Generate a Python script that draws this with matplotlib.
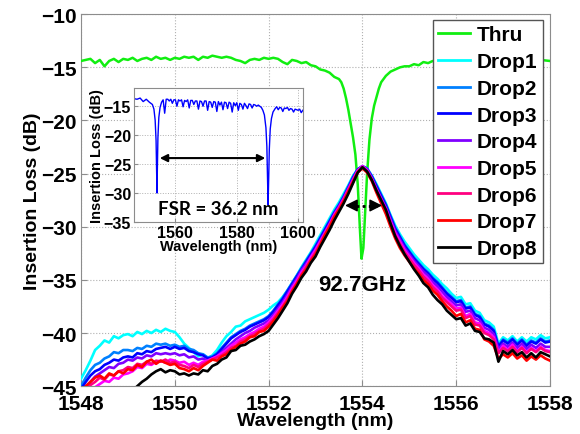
import numpy as np
import matplotlib
matplotlib.use("Agg")
import matplotlib.pyplot as plt

plt.rcParams['font.family'] = ['Liberation Sans', 'DejaVu Sans']
plt.rcParams['font.weight'] = 'bold'

# ---------------- data ----------------
wl = np.round(np.arange(1548.0, 1558.0001, 0.1), 2)

drop1 = [-44.3, -43.5, -42.6, -41.6, -41.2, -40.7, -40.9, -40.3, -40.5, -40.2,
         -40.1, -40.3, -39.9, -40.1, -39.8, -40.0, -39.7, -39.9, -39.6, -39.8,
         -39.9, -40.4, -41.0, -41.4, -41.8, -42.2, -42.0, -42.4, -42.1, -41.6,
         -40.9, -40.3, -39.9, -39.4, -39.3, -38.9, -38.7, -38.5, -38.3, -38.1,
         -37.8, -37.4, -37.1, -36.6, -36.0, -35.3, -34.6, -33.8, -33.1, -32.4,
         -31.6, -30.8, -30.0, -29.2, -28.4, -27.7, -26.9, -26.1, -25.2, -24.6,
         -24.4, -24.6, -25.2, -26.0, -26.9, -27.8, -28.9, -29.9, -30.7, -31.4,
         -32.0, -32.6, -33.1, -33.6, -34.0, -34.5, -34.9, -35.4, -35.8, -36.3,
         -36.7, -36.6, -37.3, -37.2, -37.9, -38.1, -38.8, -39.0, -39.4, -41.0,
         -40.4, -40.7, -40.3, -40.8, -40.4, -40.8, -40.4, -40.6, -40.2, -40.5, -40.4]
drop2 = [-45.0, -44.2, -43.5, -43.0, -42.8, -42.4, -42.2, -41.8, -41.9, -41.6,
         -41.6, -41.7, -41.4, -41.5, -41.2, -41.3, -41.0, -41.1, -41.0, -41.2,
         -41.1, -41.3, -41.2, -41.5, -41.6, -41.9, -42.0, -42.3, -42.2, -41.9,
         -41.4, -40.9, -40.4, -40.1, -39.8, -39.6, -39.3, -39.1, -38.9, -38.7,
         -38.4, -37.9, -37.3, -36.7, -36.0, -35.3, -34.6, -33.9, -33.2, -32.5,
         -31.8, -31.0, -30.2, -29.4, -28.6, -27.9, -27.1, -26.2, -25.3, -24.6,
         -24.3, -24.5, -25.2, -26.1, -27.0, -27.9, -29.0, -30.1, -30.9, -31.7,
         -32.3, -32.9, -33.4, -33.9, -34.3, -34.8, -35.2, -35.7, -36.2, -36.6,
         -37.0, -36.9, -37.6, -37.5, -38.2, -38.4, -39.1, -39.3, -39.7, -41.2,
         -40.6, -40.9, -40.5, -41.0, -40.6, -41.1, -40.7, -40.9, -40.5, -40.8, -40.7]
drop3 = [-45.3, -44.6, -44.0, -43.6, -43.4, -43.0, -42.8, -42.5, -42.6, -42.3,
         -42.2, -42.3, -41.9, -42.0, -41.7, -41.8, -41.5, -41.4, -41.3, -41.5,
         -41.3, -41.5, -41.4, -41.7, -41.8, -42.0, -42.1, -42.4, -42.3, -42.0,
         -41.5, -41.0, -40.5, -40.2, -39.9, -39.7, -39.4, -39.2, -39.0, -38.8,
         -38.5, -38.0, -37.4, -36.8, -36.1, -35.4, -34.7, -34.0, -33.3, -32.6,
         -31.9, -31.1, -30.3, -29.5, -28.7, -28.0, -27.2, -26.3, -25.4, -24.6,
         -24.3, -24.6, -25.3, -26.2, -27.1, -28.0, -29.1, -30.2, -31.0, -31.8,
         -32.4, -33.0, -33.5, -34.0, -34.4, -34.9, -35.3, -35.8, -36.3, -36.7,
         -37.1, -37.0, -37.7, -37.6, -38.3, -38.5, -39.2, -39.4, -39.8, -41.3,
         -40.7, -41.0, -40.6, -41.1, -40.7, -41.2, -40.8, -41.0, -40.6, -40.9, -40.8]
drop4 = [-45.8, -45.2, -44.6, -44.1, -43.8, -43.5, -43.2, -43.3, -42.9, -42.8,
         -42.5, -42.6, -42.3, -42.4, -42.1, -42.2, -41.9, -42.0, -41.9, -42.0,
         -41.9, -42.1, -42.0, -42.3, -42.2, -42.5, -42.4, -42.6, -42.4, -42.2,
         -41.8, -41.4, -41.0, -40.6, -40.3, -40.0, -39.8, -39.5, -39.3, -39.1,
         -38.8, -38.3, -37.7, -37.1, -36.4, -35.6, -34.9, -34.1, -33.5, -32.8,
         -32.1, -31.3, -30.5, -29.7, -28.8, -28.1, -27.3, -26.4, -25.5, -24.7,
         -24.3, -24.6, -25.4, -26.4, -27.3, -28.2, -29.3, -30.4, -31.2, -32.0,
         -32.6, -33.2, -33.7, -34.2, -34.6, -35.2, -35.6, -36.1, -36.6, -37.0,
         -37.4, -37.3, -38.0, -37.9, -38.6, -38.8, -39.5, -39.7, -40.1, -41.5,
         -41.0, -41.3, -40.9, -41.4, -41.0, -41.5, -41.1, -41.4, -41.0, -41.3, -41.3]
drop5 = [-46.2, -45.8, -45.5, -45.1, -44.8, -44.5, -44.6, -44.2, -44.3, -43.9,
         -43.8, -43.6, -43.2, -43.3, -42.9, -43.0, -42.7, -42.6, -42.8, -42.5,
         -42.6, -42.8, -42.7, -43.0, -42.8, -43.0, -42.7, -42.6, -42.4, -42.2,
         -41.9, -41.6, -41.2, -40.9, -40.6, -40.4, -40.1, -39.9, -39.6, -39.4,
         -39.0, -38.5, -37.9, -37.3, -36.6, -35.8, -35.1, -34.3, -33.7, -32.9,
         -32.2, -31.4, -30.6, -29.8, -28.9, -28.2, -27.4, -26.5, -25.6, -24.7,
         -24.3, -24.7, -25.5, -26.5, -27.4, -28.3, -29.5, -30.6, -31.4, -32.2,
         -32.8, -33.4, -33.9, -34.5, -34.9, -35.5, -35.9, -36.5, -36.9, -37.3,
         -37.7, -37.6, -38.4, -38.2, -39.0, -39.1, -39.8, -40.0, -40.4, -41.8,
         -41.2, -41.6, -41.1, -41.7, -41.3, -41.8, -41.4, -41.7, -41.3, -41.6, -41.7]
drop6 = [-46.0, -45.5, -44.9, -44.6, -44.2, -44.4, -43.9, -44.0, -43.6, -43.5,
         -43.2, -43.3, -42.9, -43.0, -42.7, -42.9, -42.6, -42.7, -42.5, -42.8,
         -42.7, -43.0, -43.1, -43.3, -43.0, -43.2, -42.9, -42.7, -42.5, -42.3,
         -42.1, -41.8, -41.4, -41.2, -40.8, -40.6, -40.3, -40.1, -39.8, -39.6,
         -39.2, -38.7, -38.1, -37.5, -36.8, -36.0, -35.3, -34.5, -33.8, -33.1,
         -32.4, -31.6, -30.7, -29.9, -29.0, -28.3, -27.5, -26.6, -25.7, -24.8,
         -24.4, -24.8, -25.6, -26.6, -27.6, -28.5, -29.7, -30.8, -31.6, -32.4,
         -33.0, -33.6, -34.1, -34.7, -35.1, -35.7, -36.1, -36.7, -37.1, -37.5,
         -37.9, -37.8, -38.6, -38.4, -39.2, -39.3, -40.0, -40.2, -40.6, -41.9,
         -41.4, -41.7, -41.3, -41.8, -41.4, -41.9, -41.5, -41.8, -41.4, -41.7, -41.8]
drop7 = [-45.6, -45.0, -44.6, -44.2, -44.0, -44.3, -43.8, -44.0, -43.6, -43.8,
         -43.4, -43.5, -43.0, -43.2, -42.7, -42.5, -42.9, -42.6, -42.8, -43.0,
         -42.9, -43.3, -43.4, -43.6, -43.3, -43.5, -43.1, -42.8, -42.5, -42.6,
         -42.2, -42.0, -41.6, -41.3, -41.0, -40.8, -40.4, -40.3, -39.9, -39.8,
         -39.4, -38.9, -38.3, -37.6, -37.0, -36.1, -35.4, -34.6, -34.0, -33.2,
         -32.6, -31.7, -30.8, -30.0, -29.1, -28.4, -27.6, -26.7, -25.8, -24.9,
         -24.5, -24.9, -25.7, -26.8, -27.8, -28.8, -30.0, -31.1, -32.0, -32.7,
         -33.3, -33.9, -34.4, -35.0, -35.4, -36.0, -36.4, -37.0, -37.5, -37.9,
         -38.4, -38.2, -39.0, -38.8, -39.6, -39.7, -40.6, -40.8, -41.2, -42.4,
         -42.0, -42.3, -41.9, -42.4, -42.1, -42.6, -42.2, -42.5, -42.1, -42.4, -42.6]
drop8 = [-46.5, -46.3, -46.6, -46.2, -46.4, -46.0, -46.3, -45.9, -46.1, -45.8,
         -45.7, -45.4, -45.0, -44.6, -44.3, -43.9, -43.6, -43.4, -43.7, -43.5,
         -43.6, -43.9, -43.8, -44.0, -43.8, -43.9, -43.5, -43.6, -43.1, -42.9,
         -42.5, -42.3, -41.7, -41.6, -41.2, -41.1, -40.8, -40.6, -40.3, -40.1,
         -39.8, -39.2, -38.6, -37.9, -37.2, -36.3, -35.6, -34.8, -34.2, -33.4,
         -32.8, -31.9, -31.1, -30.3, -29.4, -28.6, -27.8, -26.9, -25.9, -24.9,
         -24.4, -24.8, -25.6, -26.6, -27.5, -28.4, -29.7, -30.9, -31.8, -32.6,
         -33.3, -34.0, -34.6, -35.3, -35.7, -36.4, -36.9, -37.3, -37.9, -38.3,
         -38.7, -38.6, -39.3, -39.1, -39.8, -39.9, -40.5, -40.6, -40.9, -42.7,
         -41.7, -42.0, -41.6, -42.1, -41.8, -42.3, -41.9, -42.3, -41.8, -42.0, -42.2]

thru_wl = [1548.0, 1548.1, 1548.2, 1548.3, 1548.4, 1548.5, 1548.6, 1548.7, 1548.8, 1548.9,
           1549.0, 1549.1, 1549.2, 1549.3, 1549.4, 1549.5, 1549.6, 1549.7, 1549.8, 1549.9,
           1550.0, 1550.1, 1550.2, 1550.3, 1550.4, 1550.5, 1550.6, 1550.7, 1550.8, 1550.9,
           1551.0, 1551.1, 1551.2, 1551.3, 1551.4, 1551.5, 1551.6, 1551.7, 1551.8, 1551.9,
           1552.0, 1552.1, 1552.2, 1552.3, 1552.4, 1552.5, 1552.6, 1552.7, 1552.8, 1552.9,
           1553.0, 1553.1, 1553.2, 1553.3, 1553.4, 1553.5, 1553.55, 1553.6, 1553.65, 1553.7,
           1553.75, 1553.8, 1553.85, 1553.9, 1553.95, 1553.98, 1554.02, 1554.06, 1554.1, 1554.15,
           1554.2, 1554.25, 1554.3, 1554.35, 1554.4, 1554.5, 1554.6, 1554.7, 1554.8, 1554.9,
           1555.0, 1555.1, 1555.2, 1555.3, 1555.4, 1555.5, 1555.6, 1555.7, 1555.8, 1555.9,
           1556.0, 1556.2, 1556.4, 1556.6, 1556.8, 1557.0, 1557.2, 1557.4, 1557.6, 1557.8, 1558.0]
thru = [-14.4, -14.3, -14.2, -14.6, -14.3, -14.9, -14.4, -14.2, -14.5, -14.2,
        -14.3, -14.1, -14.4, -14.2, -14.1, -14.3, -14.0, -14.2, -14.1, -14.3,
        -14.1, -14.2, -14.0, -14.1, -14.0, -14.3, -14.0, -14.1, -13.9, -14.0,
        -14.1, -14.0, -14.1, -14.3, -14.4, -14.6, -14.3, -14.2, -14.3, -14.1,
        -14.2, -14.1, -14.2, -14.5, -14.7, -14.3, -14.4, -14.6, -14.5, -14.8,
        -14.9, -15.2, -15.3, -15.5, -15.9, -16.1, -16.4, -17.0, -17.9, -19.0,
        -20.3, -21.6, -23.2, -26.0, -30.5, -33.0, -32.0, -28.5, -25.0, -21.8,
        -19.8, -18.6, -17.8, -17.0, -16.4, -15.8, -15.4, -15.2, -15.0, -14.9,
        -14.9, -14.7, -14.8, -14.5, -14.6, -14.4, -14.5, -14.3, -14.3, -14.4,
        -14.2, -14.3, -14.1, -14.3, -14.2, -14.4, -14.2, -14.3, -14.1, -14.3, -14.4]

inset_wl = [1546.5, 1547.5, 1548.5, 1549.5, 1550.5, 1551.5, 1552.5, 1553.0, 1553.4, 1553.7,
            1553.9, 1554.0, 1554.1, 1554.3, 1554.6, 1555.0, 1555.5, 1556.0, 1556.5, 1557.0,
            1557.5, 1558.0, 1558.5, 1559.0, 1559.5, 1560.0, 1560.5, 1561.0, 1561.5, 1562.0,
            1562.5, 1563.0, 1563.5, 1564.0, 1564.5, 1565.0, 1565.5, 1566.0, 1566.5, 1567.0,
            1567.5, 1568.0, 1568.5, 1569.0, 1569.5, 1570.0, 1570.5, 1571.0, 1571.5, 1572.0,
            1572.5, 1573.0, 1573.5, 1574.0, 1574.5, 1575.0, 1575.5, 1576.0, 1576.5, 1577.0,
            1577.5, 1578.0, 1578.5, 1579.0, 1579.5, 1580.0, 1580.5, 1581.0, 1581.5, 1582.0,
            1582.5, 1583.0, 1583.5, 1584.0, 1584.5, 1585.0, 1585.5, 1586.0, 1586.5, 1587.0,
            1587.5, 1588.0, 1588.5, 1589.0, 1589.5, 1589.8, 1590.0, 1590.2, 1590.4, 1590.6,
            1590.9, 1591.3, 1591.8, 1592.5, 1593.0, 1593.5, 1594.0, 1594.5, 1595.0, 1595.5,
            1596.0, 1596.5, 1597.0, 1597.5, 1598.0, 1598.5, 1599.0, 1599.5, 1600.0, 1600.5,
            1601.0, 1601.5]
inset_il = [-13.8, -13.9, -13.7, -14.3, -13.9, -14.4, -14.8, -15.6, -17.5, -21.0,
            -27.0, -30.0, -26.5, -20.5, -17.0, -15.3, -14.4, -14.0, -16.3, -13.9,
            -13.9, -14.2, -13.9, -14.6, -14.0, -14.0, -15.1, -14.0, -14.2, -14.0,
            -15.2, -14.1, -14.3, -14.0, -15.4, -14.1, -14.1, -14.8, -14.2, -14.2,
            -15.6, -14.2, -14.3, -15.1, -14.2, -14.2, -15.8, -14.3, -14.4, -15.3,
            -14.3, -14.4, -16.0, -14.3, -14.9, -14.4, -15.7, -14.4, -14.5, -15.5,
            -14.4, -14.6, -16.1, -14.5, -15.0, -14.5, -15.8, -14.6, -14.8, -15.6,
            -14.6, -15.0, -15.5, -14.7, -14.8, -15.4, -14.8, -14.9, -15.1, -14.9,
            -15.1, -15.3, -15.8, -16.6, -18.8, -22.0, -27.0, -32.0, -27.5, -22.5,
            -19.0, -17.2, -16.1, -15.5, -15.2, -15.7, -15.3, -15.4, -16.0, -15.4,
            -15.5, -15.3, -15.8, -15.5, -15.6, -16.1, -15.6, -15.7, -15.8, -15.6,
            -16.2, -15.8]

labels = ['Thru', 'Drop1', 'Drop2', 'Drop3', 'Drop4', 'Drop5', 'Drop6', 'Drop7', 'Drop8']
colors = ['#11ee11', '#00ffff', '#0080ff', '#0000ff', '#8000ff', '#ff00ff', '#ff0080', '#ff0000', '#000000']
drops = [drop1, drop2, drop3, drop4, drop5, drop6, drop7, drop8]

xticks = [1548, 1550, 1552, 1554, 1556, 1558]
yticks = [-45, -40, -35, -30, -25, -20, -15, -10]
inset_xticks = [1560, 1580, 1600]
inset_yticks = [-35, -30, -25, -20, -15]

fsr_start, fsr_end = 1554.0, 1590.2
bw_left, bw_right = 1553.63, 1554.42
bw_level = -28.0

# ---------------- plot ----------------
fig = plt.figure(figsize=(5.8, 4.35), dpi=100)
ax = fig.add_axes([0.1397, 0.110, 0.8086, 0.855])

edge = '#8c8c8c'
ax.plot(thru_wl, thru, color=colors[0], lw=1.8, label=labels[0], zorder=3)
for d, c, lab in zip(drops, colors[1:], labels[1:]):
    ax.plot(wl, d, color=c, lw=1.9, label=lab, zorder=3)

ax.set_xlim(1548, 1558)
ax.set_ylim(-45, -10)
ax.set_xticks(xticks)
ax.set_yticks(yticks)
ax.tick_params(direction='in', length=4, labelsize=15, color=edge)
ax.tick_params(axis='x', pad=6)
ax.tick_params(axis='y', pad=3)
for t in ax.get_xticklabels() + ax.get_yticklabels():
    t.set_fontweight('bold')
ax.grid(True, linestyle=':', color='#b0b0b0', lw=0.8)
for s in ax.spines.values():
    s.set_color(edge)
ax.set_xlabel('Wavelength (nm)', fontsize=14, fontweight='bold', labelpad=-1)
ax.set_ylabel('Insertion Loss (dB)', fontsize=14, fontweight='bold', labelpad=0)

# bandwidth arrow: dotted shaft with solid heads
ax.plot([bw_left + 0.1, bw_right - 0.1], [bw_level, bw_level], color='black',
        lw=2, linestyle=(0, (1, 1.2)), zorder=5)
ax.annotate('', xy=(bw_left, bw_level), xytext=(bw_left + 0.12, bw_level),
            arrowprops=dict(arrowstyle='-|>', color='black', lw=1,
                            mutation_scale=19, shrinkA=0, shrinkB=0), zorder=5)
ax.annotate('', xy=(bw_right, bw_level), xytext=(bw_right - 0.12, bw_level),
            arrowprops=dict(arrowstyle='-|>', color='black', lw=1,
                            mutation_scale=19, shrinkA=0, shrinkB=0), zorder=5)
ax.text(1554.0, -35.4, '92.7GHz', fontsize=16, fontweight='bold',
        ha='center', va='center', zorder=6)

leg = ax.legend(loc='upper right', bbox_to_anchor=(0.993, 0.995),
                prop={'weight': 'bold', 'size': 15}, handlelength=1.55,
                handletextpad=0.3, labelspacing=0.37, borderpad=0.25,
                fancybox=False, framealpha=1, edgecolor='#555555',
                borderaxespad=0.2)
for l in leg.get_lines():
    l.set_linewidth(2)
leg.set_zorder(10)

# inset
axi = fig.add_axes([0.231, 0.487, 0.291, 0.308])
axi.plot(inset_wl, inset_il, color='#0000ff', lw=1.0)
axi.set_xlim(1546.5, 1601.5)
axi.set_ylim(-35, -12)
axi.set_xticks(inset_xticks)
axi.set_yticks(inset_yticks)
axi.tick_params(direction='in', length=3, labelsize=11.5, color=edge, pad=2)
for t in axi.get_xticklabels() + axi.get_yticklabels():
    t.set_fontweight('bold')
axi.grid(True, linestyle=':', color='#b0b0b0', lw=0.7)
for s in axi.spines.values():
    s.set_color(edge)
axi.set_xlabel('Wavelength (nm)', fontsize=10.5, fontweight='bold', labelpad=-1)
axi.set_ylabel('Insertion Loss (dB)', fontsize=10.5, fontweight='bold', labelpad=0)
axi.annotate('', xy=(fsr_start, -24.0), xytext=(fsr_end, -24.0),
             arrowprops=dict(arrowstyle='<|-|>', color='black', lw=1.5,
                             mutation_scale=11))
axi.text(1573.8, -32.6, 'FSR = 36.2 nm', fontsize=13.5, fontweight='bold',
         family=['Lato', 'DejaVu Sans'], ha='center', va='center')

fig.savefig('out.png', dpi=100)
